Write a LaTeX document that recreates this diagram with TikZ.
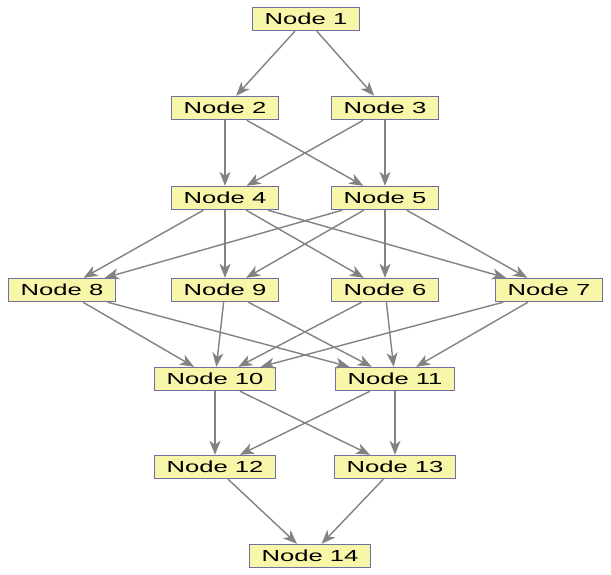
\documentclass[tikz,border=0pt]{standalone}
\usepackage{fontspec}
\setmainfont{Liberation Sans}[FakeStretch=1.6]
\usetikzlibrary{arrows.meta}
\definecolor{nodefill}{RGB}{248,246,168}
\definecolor{nodeborder}{RGB}{112,112,160}
\definecolor{edgegray}{RGB}{130,130,130}
\tikzset{
  gnode/.style={draw=nodeborder, fill=nodefill, line width=1.4pt, inner xsep=12pt, inner ysep=0pt,
    minimum height=23pt, font=\fontsize{16}{18}\selectfont},
  gedge/.style={draw=edgegray, line width=1.4pt, -{Stealth[length=14pt,width=11pt,inset=4pt]}}
}
\begin{document}
\begin{tikzpicture}[x=1pt,y=-1pt]
\useasboundingbox[fill=white] (0,0) rectangle (611,575);
\node[gnode] (n1) at (306,19) {Node 1};
\node[gnode] (n2) at (225,108) {Node 2};
\node[gnode] (n3) at (385,108) {Node 3};
\node[gnode] (n4) at (225,198) {Node 4};
\node[gnode] (n5) at (385,198) {Node 5};
\node[gnode] (n8) at (62,290) {Node 8};
\node[gnode] (n9) at (225,290) {Node 9};
\node[gnode] (n6) at (385,290) {Node 6};
\node[gnode] (n7) at (549,290) {Node 7};
\node[gnode] (n10) at (215,379) {Node 10};
\node[gnode] (n11) at (395,379) {Node 11};
\node[gnode] (n12) at (215,467) {Node 12};
\node[gnode] (n13) at (395,467) {Node 13};
\node[gnode] (n14) at (310,556) {Node 14};
\foreach \a/\b in {n1/n2,n1/n3,n2/n4,n2/n5,n3/n4,n3/n5,
  n4/n8,n4/n9,n4/n6,n4/n7,n5/n8,n5/n9,n5/n6,n5/n7,
  n8/n10,n8/n11,n9/n10,n9/n11,n6/n10,n6/n11,n7/n10,n7/n11,
  n10/n12,n10/n13,n11/n12,n11/n13,n12/n14,n13/n14}
  \draw[gedge] (\a) -- (\b);
\end{tikzpicture}
\end{document}
